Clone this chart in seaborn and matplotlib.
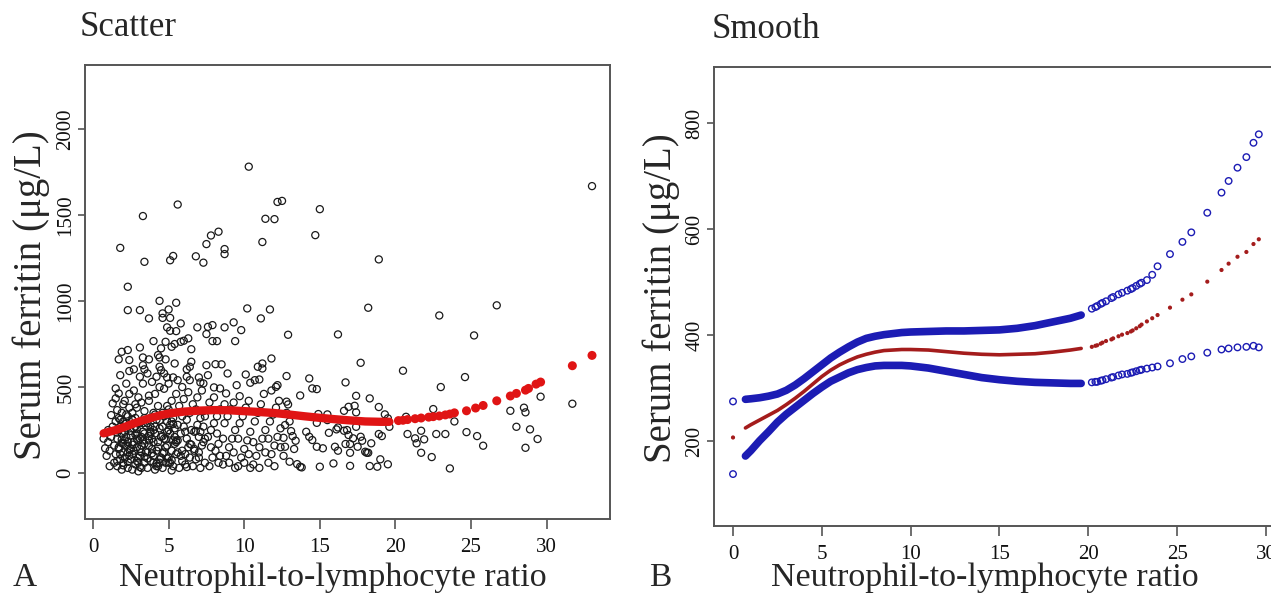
import numpy as np
import pandas as pd
import seaborn as sns
import matplotlib
matplotlib.use("Agg")
import matplotlib.pyplot as plt

# ---- panel A: raw points (NLR vs serum ferritin) ----
high_x = [10.3, 5.6, 12.2, 12.5, 3.3, 11.4, 12.0, 1.8, 7.8, 8.3, 7.5, 11.2, 3.4, 5.3, 5.1, 6.8,
          7.3, 8.7, 8.7, 2.3, 4.4, 5.5, 2.3, 3.1, 4.6, 5.0, 5.1, 4.6, 3.7, 14.7, 15.0, 18.9]
high_y = [1781, 1561, 1576, 1582, 1494, 1478, 1476, 1309, 1381, 1403, 1331, 1343, 1228, 1262, 1237, 1260,
          1223, 1302, 1273, 1083, 1001, 990, 947, 947, 928, 951, 902, 902, 899, 1383, 1534, 1242]

binA_x = [0.8, 1.0, 1.2, 1.3, 1.0, 0.9, 1.4, 1.2, 1.5, 1.1, 1.4, 1.3, 0.7, 1.1, 1.5]
binA_y = [144, 250, 337, 405, 180, 100, 60, 210, 300, 130, 160, 270, 200, 40, 110]

binB_x = [1.6, 1.7, 1.5, 1.5, 1.8, 1.7, 1.9, 1.6, 1.8, 2.0, 1.7, 2.1, 1.9, 2.2, 2.0, 2.3, 2.4, 2.1, 2.4, 2.2,
          2.4, 2.3, 2.0, 2.3, 2.4, 2.2, 1.8, 2.5, 1.6, 2.4, 1.9, 2.1, 1.7, 2.3, 2.0, 1.8, 2.2, 2.5, 1.9, 2.1]
binB_y = [366, 463, 434, 492, 569, 661, 705, 40, 80, 120, 150, 190, 230, 260, 300, 330, 380, 420, 460, 520,
          593, 715, 60, 30, 100, 160, 270, 220, 200, 657, 350, 90, 250, 180, 400, 310, 290, 140, 20, 240]

binC_x = [2.7, 3.3, 3.4, 3.3, 3.1, 2.6, 2.8, 3.0, 3.2, 2.9, 2.7, 3.1, 3.3, 2.8, 3.0, 3.4, 2.6, 2.9, 3.2,
          3.0, 2.7, 3.3, 3.1, 2.6, 3.4, 2.9, 3.2, 3.4, 2.8, 3.1, 2.7, 3.0, 3.3, 2.9, 3.2, 2.6, 3.4, 3.0]
binC_y = [603, 627, 603, 672, 730, 20, 50, 90, 120, 150, 180, 200, 240, 270, 290, 320, 350, 380, 410,
          440, 480, 520, 560, 110, 60, 230, 30, 170, 400, 140, 260, 10, 290, 70, 210, 310, 360, 190]

binD_x = [3.6, 3.7, 4.0, 4.3, 4.4, 4.4, 4.5, 4.2, 4.5, 3.6, 3.8, 4.0, 4.2, 3.7, 3.9, 4.1, 4.4, 3.6,
          3.8, 4.0, 4.3, 3.7, 4.1, 4.4, 3.9, 4.2, 4.4, 3.6, 4.0, 4.3, 3.8, 4.2, 3.7, 4.1, 3.9, 4.5]
binD_y = [579, 661, 767, 686, 672, 618, 598, 560, 725, 30, 70, 100, 130, 160, 200, 230, 260, 290,
          320, 350, 390, 420, 460, 500, 530, 40, 80, 120, 250, 180, 270, 310, 450, 20, 140, 210]

binE_x = [4.7, 4.8, 4.9, 5.3, 4.8, 5.2, 5.4, 5.4, 4.9, 5.1, 5.5, 4.6, 4.8, 5.0, 5.2, 5.4, 4.7, 4.9,
          5.1, 5.3, 4.6, 4.9, 5.2, 5.5, 4.7, 5.0, 5.3, 5.5, 4.8, 5.1, 5.4, 5.0, 4.6, 5.2, 4.9]
binE_y = [579, 661, 556, 556, 763, 734, 750, 637, 847, 827, 825, 30, 60, 90, 130, 170, 200, 240,
          280, 320, 350, 390, 420, 460, 490, 520, 40, 110, 150, 230, 260, 370, 270, 15, 300]

binF_x = [5.6, 5.8, 6.0, 6.3, 6.2, 6.4, 6.5, 6.4, 6.2, 6.5, 5.8, 5.7, 5.9, 6.1, 6.3,
          5.6, 5.8, 6.0, 6.2, 6.4, 5.7, 6.0, 6.3, 5.9, 6.1, 6.4, 5.6, 6.2, 6.5, 5.9]
binF_y = [540, 763, 769, 783, 560, 540, 647, 618, 603, 720, 870, 30, 70, 110, 150,
          190, 230, 270, 310, 350, 390, 430, 470, 500, 50, 90, 120, 200, 250, 330]

binG_x = [7.0, 7.1, 7.3, 6.9, 7.5, 7.5, 6.6, 6.8, 7.0, 7.2, 7.4, 6.7, 6.9, 7.1, 7.3, 6.6, 6.9, 7.2,
          7.4, 6.7, 7.0, 7.3, 6.8, 7.1]
binG_y = [556, 527, 521, 847, 808, 627, 40, 80, 120, 160, 200, 240, 280, 320, 360, 400, 440, 480,
          60, 130, 210, 270, 370, 30]

binH_x = [7.6, 7.6, 7.9, 7.9, 8.2, 8.1, 8.5, 8.0, 8.4, 7.7, 7.9, 8.1, 8.3, 7.6, 7.8, 8.0, 8.2, 8.4,
          7.7, 8.0, 8.3, 7.8, 8.2, 8.4]
binH_y = [569, 850, 860, 767, 767, 633, 632, 498, 492, 40, 90, 130, 170, 210, 250, 290, 330, 370,
          410, 440, 60, 150, 230, 100]

binI_x = [8.7, 8.9, 8.8, 9.3, 9.4, 9.5, 8.6, 8.8, 9.0, 9.2, 9.4, 8.7, 8.9, 9.1, 9.3, 8.6, 9.0, 9.3, 8.7, 9.4]
binI_y = [847, 579, 463, 876, 767, 511, 50, 100, 150, 200, 250, 290, 330, 370, 410, 200, 60, 120, 400, 30]

binJ_x = [9.8, 10.2, 9.7, 10.1, 10.4, 9.6, 9.8, 10.0, 10.2, 10.4, 9.7, 9.9, 10.1, 10.3, 10.0, 10.3, 9.6, 10.4]
binJ_y = [831, 957, 447, 573, 525, 40, 90, 140, 190, 240, 290, 330, 380, 420, 60, 110, 200, 30]

binK_x = [11.1, 10.7, 11.0, 10.9, 11.2, 11.2, 10.6, 10.8, 11.0, 11.2, 11.4, 10.7, 10.9, 11.1, 11.3, 10.6, 11.0, 11.4]
binK_y = [899, 540, 544, 618, 637, 608, 50, 100, 150, 200, 250, 300, 350, 400, 460, 180, 30, 120]

binL_x = [11.7, 11.8, 12.1, 12.2, 11.6, 11.8, 12.0, 12.2, 12.4, 11.7, 11.9, 12.1, 12.3, 11.6, 12.0, 12.4, 11.8]
binL_y = [951, 666, 501, 511, 60, 110, 160, 210, 260, 300, 340, 380, 420, 200, 40, 150, 480]

binM_x = [12.7, 12.6, 12.7, 12.8, 12.9, 12.8, 12.9, 13.1, 13.2, 13.4, 13.0, 13.5, 13.7, 13.8, 13.7, 12.6, 13.0, 13.3, 12.8]
binM_y = [279, 205, 153, 415, 399, 564, 804, 244, 215, 188, 66, 52, 37, 33, 451, 100, 300, 140, 350]

binN_x = [14.1, 14.3, 14.5, 14.3, 14.5, 14.8, 14.8, 15.2, 14.9, 15.5, 14.8, 15.5, 15.6, 15.0, 15.9, 16.0]
binN_y = [240, 211, 192, 550, 492, 488, 153, 144, 343, 341, 292, 308, 234, 37, 56, 153]

binO_x = [16.1, 16.2, 16.2, 16.6, 16.8, 16.7, 16.7, 16.2, 16.9, 16.6, 17.3, 17.4, 17.4, 17.4, 16.9, 17.2, 17.0,
          17.0, 17.0, 17.5, 17.7, 17.8, 17.7, 18.1, 18.0, 18.2, 18.2, 18.3, 18.4, 18.3, 18.8, 18.9, 18.9,
          19.1, 19.0, 19.5, 19.3, 19.5, 19.6]
binO_y = [254, 130, 265, 246, 250, 169, 527, 806, 385, 362, 391, 353, 449, 269, 221, 202, 169,
          118, 42, 153, 211, 188, 641, 118, 124, 118, 961, 434, 173, 41, 37, 384, 227,
          215, 80, 51, 341, 318, 269]

binP_x = [20.5, 20.7, 20.8, 21.7, 21.3, 21.4, 21.9, 22.7, 23.3, 21.7, 22.4, 23.6, 22.5, 23.0, 22.9, 23.9,
          24.7, 24.6, 25.4, 25.8, 25.2, 26.7, 27.6, 28.0, 28.5, 28.6, 28.9, 28.6, 29.4, 29.6, 31.7, 33.0]
binP_y = [595, 327, 227, 246, 202, 173, 196, 227, 227, 118, 93, 27, 372, 500, 916, 300,
          238, 558, 215, 159, 800, 975, 362, 269, 380, 353, 254, 147, 198, 444, 403, 1668]

# the darkest part of the cloud (low NLR, low ferritin)
dense_x = [1.6, 1.8, 2.0, 2.2, 2.4, 1.7, 1.9, 2.1, 2.3, 2.5, 2.6, 2.8, 3.0, 3.2, 3.4, 2.7, 2.9, 3.1, 3.3, 3.5,
           3.6, 3.8, 4.0, 4.2, 4.4, 3.7, 3.9, 4.1, 4.3, 4.5, 4.6, 4.8, 5.0, 5.2, 5.4, 4.7, 4.9, 5.1, 5.3, 5.5,
           1.6, 1.9, 2.2, 2.5, 2.8, 3.1, 3.4, 3.7, 4.0, 4.3, 4.6, 4.9, 5.2, 5.5, 5.8, 6.1, 6.4, 6.7, 7.0, 7.3,
           1.7, 2.0, 2.3, 2.6, 2.9, 3.2, 3.5, 3.8, 4.1, 4.4, 4.7, 5.0, 5.3, 5.6, 5.9, 6.2, 6.5, 6.8, 7.1, 7.4]
dense_y = [70, 110, 45, 210, 135, 320, 175, 285, 65, 245, 165, 225, 60, 300, 95, 130, 255, 35, 190, 275,
           85, 240, 180, 55, 305, 215, 115, 340, 150, 90, 115, 195, 250, 75, 210, 330, 160, 60, 285, 190,
           235, 195, 340, 80, 320, 100, 230, 190, 60, 40, 215, 85, 300, 180, 100, 240, 170, 140, 90, 180,
           140, 170, 120, 310, 200, 160, 125, 230, 270, 60, 120, 60, 190, 280, 130, 35, 165, 245, 240, 330]

# red fitted curve in panel A (dense band, then single dots)
fit_band_x = [0.7, 1.5, 2.0, 2.5, 3.0, 3.5, 4.0, 4.5, 5.0, 5.5, 6.0, 7.0, 8.0, 9.0, 10.0, 11.0, 12.0,
              13.0, 14.0, 15.0, 16.0, 17.0, 18.0, 19.0, 19.6]
fit_band_y = [231, 250, 265, 282, 298, 312, 325, 337, 346, 352, 357, 363, 366, 365, 360, 355, 349,
              340, 330, 321, 313, 306, 300, 298, 298]
fit_dot_x = [20.2, 20.5, 20.8, 21.3, 21.7, 22.2, 22.5, 22.9, 23.3, 23.6, 23.9, 24.7, 25.3, 25.8, 26.7,
             27.6, 28.0, 28.6, 28.8, 29.3, 29.6, 31.7, 33.0]
fit_dot_y = [305, 307, 311, 316, 320, 325, 328, 332, 338, 343, 350, 362, 378, 393, 420,
             448, 463, 482, 492, 517, 529, 624, 684]

# ---- panel B: smooth curve with confidence limits ----
sm_x = [0.7, 1.0, 1.5, 2.0, 2.5, 3.0, 3.5, 4.0, 4.5, 5.0, 5.5, 6.0, 6.5, 7.0, 7.5, 8.0, 8.5, 9.0, 9.5,
        10.0, 11.0, 12.0, 13.0, 14.0, 15.0, 16.0, 17.0, 18.0, 19.0, 19.6]
sm_upper = [279, 280, 282, 285, 289, 296, 306, 318, 331, 344, 357, 368, 378, 387, 394, 398, 401, 403, 405,
            406, 407, 408, 408, 409, 410, 413, 418, 425, 432, 438]
sm_fit = [225, 231, 240, 249, 258, 269, 281, 294, 308, 322, 334, 344, 352, 359, 364, 368, 371, 372, 373,
          373, 372, 369, 366, 364, 363, 364, 365, 368, 372, 375]
sm_lower = [172, 182, 201, 218, 236, 251, 264, 277, 290, 302, 313, 321, 329, 335, 339, 342, 343, 343, 343,
            342, 338, 332, 326, 320, 316, 313, 311, 310, 309, 309]

pt_x = [0.0, 20.2, 20.4, 20.5, 20.7, 20.8, 21.0, 21.3, 21.4, 21.7, 21.9, 22.2, 22.4, 22.5, 22.7, 22.9,
        23.0, 23.3, 23.6, 23.9, 24.6, 25.3, 25.8, 26.7, 27.5, 27.9, 28.4, 28.9, 29.3, 29.6]
pt_upper = [275, 450, 453, 455, 459, 461, 464, 470, 472, 477, 480, 484, 487, 489, 493, 497,
            499, 504, 514, 530, 553, 576, 594, 631, 669, 691, 716, 736, 763, 779]
pt_fit = [207, 378, 380, 381, 384, 386, 389, 392, 394, 398, 401, 404, 407, 409, 413, 417,
          420, 426, 432, 438, 452, 467, 477, 501, 523, 535, 548, 557, 572, 581]
pt_lower = [138, 311, 312, 312, 314, 315, 317, 320, 321, 324, 326, 327, 329, 330, 332, 334,
            335, 337, 339, 341, 347, 355, 360, 367, 373, 375, 377, 378, 380, 377]

all_x = (high_x + binA_x + binB_x + binC_x + binD_x + binE_x + binF_x + binG_x + binH_x + binI_x
         + binJ_x + binK_x + binL_x + binM_x + binN_x + binO_x + binP_x + dense_x)
all_y = (high_y + binA_y + binB_y + binC_y + binD_y + binE_y + binF_y + binG_y + binH_y + binI_y
         + binJ_y + binK_y + binL_y + binM_y + binN_y + binO_y + binP_y + dense_y)
raw = pd.DataFrame({"nlr": all_x, "ferritin": all_y})

sns.set_theme(style="ticks")
plt.rcParams['font.family'] = ['Liberation Serif', 'DejaVu Serif']

W, H = 1271, 596
fig = plt.figure(figsize=(W / 100, H / 100), dpi=100)
ax1 = fig.add_axes([85 / W, 1 - 519 / H, 525 / W, 454 / H])
ax2 = fig.add_axes([714 / W, 1 - 526 / H, 575 / W, 459 / H])

RED = "#e01414"
BLUE = "#1c1cb4"
DARKRED = "#a41c1c"

# panel A
sns.scatterplot(data=raw, x="nlr", y="ferritin", ax=ax1, marker="o", s=26,
                facecolor="none", edgecolor="#1a1a1a", linewidth=0.9, legend=False)
sns.lineplot(x=fit_band_x, y=fit_band_y, ax=ax1, color=RED, linewidth=6,
             estimator=None, sort=False, solid_capstyle="round")
sns.scatterplot(x=fit_dot_x, y=fit_dot_y, ax=ax1, color=RED, s=42, edgecolor="none", legend=False)
ax1.set_xlim(-0.53, 34.19)
ax1.set_ylim(-267, 2372)
ax1.set_xticks(range(0, 31, 5))
ax1.set_yticks(range(0, 2001, 500))

# panel B
for ys, lw, col in [(sm_upper, 5.5, BLUE), (sm_lower, 5.5, BLUE), (sm_fit, 2.6, DARKRED)]:
    sns.lineplot(x=sm_x, y=ys, ax=ax2, color=col, linewidth=lw, estimator=None, sort=False)
for ys in (pt_upper, pt_lower):
    sns.scatterplot(x=pt_x, y=ys, ax=ax2, marker="o", s=22, facecolor="none",
                    edgecolor=BLUE, linewidth=1.0, legend=False)
sns.scatterplot(x=pt_x, y=pt_fit, ax=ax2, color=DARKRED, s=9, edgecolor="none", legend=False)
ax2.set_xlim(-1.07, 31.3)
ax2.set_ylim(40, 906)
ax2.set_xticks(range(0, 31, 5))
ax2.set_yticks(range(200, 801, 200))
ax2.spines["right"].set_visible(False)

for ax in (ax1, ax2):
    ax.set_xlabel("")
    ax.set_ylabel("")
    for sp in ax.spines.values():
        sp.set_color("#555555")
        sp.set_linewidth(1.4)
    ax.tick_params(axis="x", direction="out", length=7, width=1.2, color="#555555",
                   labelsize=15, pad=7, labelcolor="#111111")
    ax.tick_params(axis="y", direction="out", length=5, width=1.2, color="#555555",
                   labelsize=15, pad=2, labelcolor="#111111", labelrotation=90)
    for lab in ax.get_yticklabels():
        lab.set_va("center")

fig.text(80 / W, 1 - 28 / H, "Scatter", fontsize=25, ha="left", va="center")
fig.text(712 / W, 1 - 30 / H, "Smooth", fontsize=25, ha="left", va="center")
fig.text(333 / W, 1 - 578 / H, "Neutrophil-to-lymphocyte ratio", fontsize=24.5, ha="center", va="center")
fig.text(985 / W, 1 - 578 / H, "Neutrophil-to-lymphocyte ratio", fontsize=24.5, ha="center", va="center")
fig.text(31 / W, 1 - 295 / H, "Serum ferritin (μg/L)", fontsize=28, ha="center", va="center", rotation=90)
fig.text(661 / W, 1 - 298 / H, "Serum ferritin (μg/L)", fontsize=28, ha="center", va="center", rotation=90)
fig.text(25 / W, 1 - 578 / H, "A", fontsize=24, ha="center", va="center")
fig.text(660 / W, 1 - 578 / H, "B", fontsize=24, ha="center", va="center")

fig.savefig("out.png", dpi=100)
